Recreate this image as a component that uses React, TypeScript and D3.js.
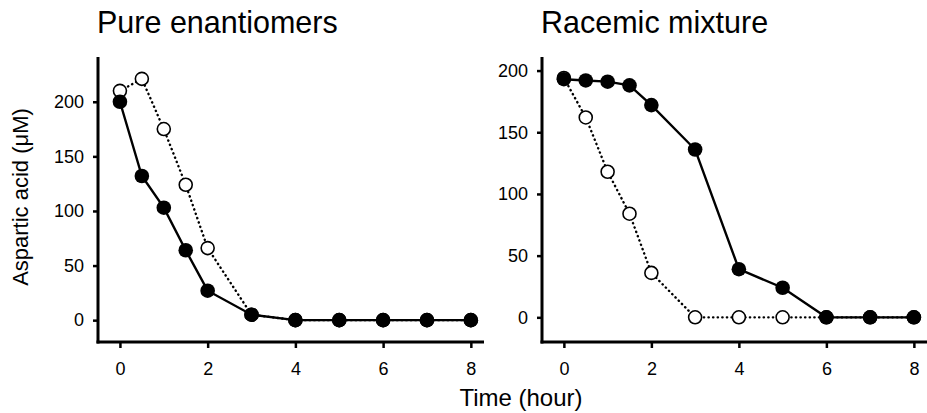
import React, { useEffect, useRef } from 'react'
import * as d3 from 'd3'

const hours = [0, 0.5, 1, 1.5, 2, 3, 4, 5, 6, 7, 8]

// Pure enantiomers panel
const pureFilled = [200, 132, 103, 64, 27, 5, 0, 0, 0, 0, 0]
const pureOpen = [210, 221, 175, 124, 66, 5, 0, 0, 0, 0, 0]

// Racemic mixture panel
const racemicFilled = [193, 192, 191, 188, 172, 136, 39, 24, 0, 0, 0]
const racemicOpen = [194, 162, 118, 84, 36, 0, 0, 0, 0, 0, 0]

const xTicks = [0, 2, 4, 6, 8]
const yTicks = [0, 50, 100, 150, 200]

const panels = [
  { title: 'Pure enantiomers', filled: pureFilled, open: pureOpen, yMax: 241, left: 98, right: 484 },
  { title: 'Racemic mixture', filled: racemicFilled, open: racemicOpen, yMax: 211, left: 542, right: 927 },
]

const W = 927
const H = 413
const FONT = 'Arial, "Liberation Sans", Helvetica, sans-serif'

const App = () => {
  const ref = useRef(null)

  useEffect(() => {
    const svg = d3.select(ref.current)
    svg.selectAll('*').remove()

    const top = 57
    const bottom = 342

    panels.forEach(p => {
      const x = d3.scaleLinear().domain([-0.5, 8.3]).range([p.left, p.right])
      const y = d3.scaleLinear().domain([-20, p.yMax]).range([bottom, top])

      const g = svg.append('g')

      // title
      g.append('text')
        .attr('x', p.left - 1)
        .attr('y', 33)
        .attr('font-size', 30.5)
        .attr('font-family', FONT)
        .attr('fill', '#000')
        .text(p.title)

      // axes
      const xAxis = d3.axisBottom(x).tickValues(xTicks).tickSize(6).tickPadding(14).tickSizeOuter(0)
      const yAxis = d3.axisLeft(y).tickValues(yTicks).tickSize(5).tickPadding(9).tickSizeOuter(0)

      g.append('g')
        .attr('transform', `translate(0,${bottom})`)
        .call(xAxis)
        .call(a => a.select('.domain').attr('stroke-width', 3).attr('d', `M${p.left - 1.5},0H${p.right}`))
        .call(a => a.selectAll('.tick line').attr('stroke-width', 2.5))
        .call(a => a.selectAll('.tick text').attr('font-size', 18).attr('font-family', FONT))

      g.append('g')
        .attr('transform', `translate(${p.left},0)`)
        .call(yAxis)
        .call(a => a.select('.domain').attr('stroke-width', 3).attr('d', `M0,${top}V${bottom + 1.5}`))
        .call(a => a.selectAll('.tick line').attr('stroke-width', 2.5))
        .call(a => a.selectAll('.tick text').attr('font-size', 18).attr('font-family', FONT))

      const line = d3
        .line<number>()
        .x((d, i) => x(hours[i]))
        .y(d => y(d))

      // open circles, dotted line (drawn underneath)
      g.append('path')
        .attr('d', line(p.open))
        .attr('fill', 'none')
        .attr('stroke', '#000')
        .attr('stroke-width', 2.4)
        .attr('stroke-linecap', 'round')
        .attr('stroke-dasharray', '0.3 4.3')

      g.append('g')
        .selectAll('circle')
        .data(p.open)
        .join('circle')
        .attr('cx', (d, i) => x(hours[i]))
        .attr('cy', d => y(d))
        .attr('r', 6.5)
        .attr('fill', '#fff')
        .attr('stroke', '#000')
        .attr('stroke-width', 1.6)

      // filled circles, solid line
      g.append('path')
        .attr('d', line(p.filled))
        .attr('fill', 'none')
        .attr('stroke', '#000')
        .attr('stroke-width', 2.4)

      g.append('g')
        .selectAll('circle')
        .data(p.filled)
        .join('circle')
        .attr('cx', (d, i) => x(hours[i]))
        .attr('cy', d => y(d))
        .attr('r', 7.3)
        .attr('fill', '#000')
    })

    // shared labels
    svg.append('text')
      .attr('transform', 'translate(28,197) rotate(-90)')
      .attr('text-anchor', 'middle')
      .attr('font-size', 22)
      .attr('font-family', FONT)
      .text('Aspartic acid (μM)')

    svg.append('text')
      .attr('x', 521)
      .attr('y', 406)
      .attr('text-anchor', 'middle')
      .attr('font-size', 24)
      .attr('font-family', FONT)
      .text('Time (hour)')
  }, [])

  return (
    <svg
      ref={ref}
      width={W}
      height={H}
      style={{ position: 'absolute', left: 0, top: 0, background: '#fff' }}
    />
  )
}

export default App
